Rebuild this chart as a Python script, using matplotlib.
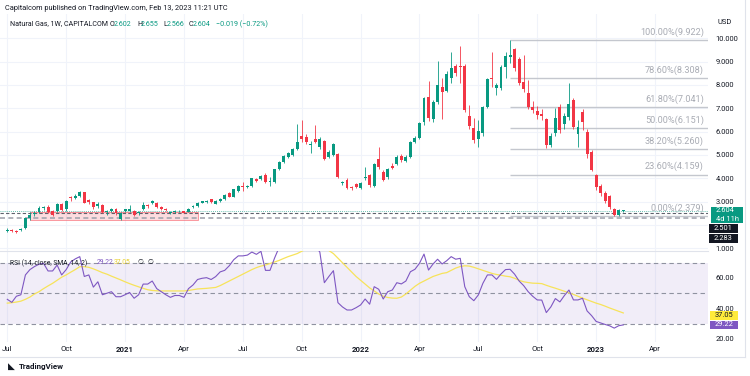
import numpy as np
import matplotlib
matplotlib.use("Agg")
import matplotlib.pyplot as plt
from matplotlib.patches import Rectangle
from matplotlib.lines import Line2D

# Weekly candles, index 0 = week of 6 Jul 2020, last = week of 13 Feb 2023
opens = [1.75, 1.80, 1.76, 1.78, 1.86, 2.29, 2.46, 2.57, 2.74, 2.78,
         2.60, 2.61, 2.89, 2.67, 3.20, 3.16, 3.24, 3.40, 3.06, 2.97,
         2.80, 2.84, 2.55, 2.61, 2.67, 2.26, 2.59, 2.58, 2.60, 2.52,
         2.70, 2.86, 2.96, 2.93, 2.78, 2.70, 2.52, 2.57, 2.58, 2.58,
         2.57, 2.76, 2.81, 2.96, 2.99, 3.10, 2.92, 3.03, 3.10, 3.36,
         3.21, 3.47, 3.67, 3.62, 3.67, 3.97, 3.96, 4.16, 3.85, 3.86,
         4.39, 4.71, 4.90, 5.00, 5.24, 5.81, 5.76, 5.43, 5.68, 5.33,
         5.61, 4.93, 5.00, 5.04, 3.79, 3.93, 3.62, 3.76, 3.60, 4.00,
         4.14, 3.69, 4.83, 4.28, 4.04, 4.54, 4.61, 4.97, 4.74, 4.93,
         5.57, 5.74, 6.40, 7.50, 6.53, 7.28, 7.93, 7.75, 8.30, 8.83,
         8.80, 8.83, 6.67, 6.17, 5.69, 5.93, 7.04, 8.30, 7.86, 7.86,
         8.76, 9.19, 9.54, 9.11, 8.14, 7.64, 7.04, 6.89, 6.76, 6.53,
         5.43, 5.93, 7.04, 6.32, 6.64, 7.36, 5.90, 6.86, 6.00, 5.14,
         4.14, 3.68, 3.38, 3.26, 2.70, 2.43, 2.602]
highs = [1.86, 1.82, 1.80, 1.88, 2.31, 2.55, 2.60, 2.80, 2.82, 2.85,
         2.65, 2.95, 2.93, 3.08, 3.26, 3.32, 3.44, 3.42, 3.10, 3.00,
         2.97, 2.88, 2.65, 2.75, 2.72, 2.56, 2.70, 2.84, 2.65, 2.62,
         3.00, 2.90, 3.06, 2.98, 2.82, 2.74, 2.60, 2.66, 2.65, 2.62,
         2.73, 2.85, 2.98, 3.05, 3.08, 3.13, 3.06, 3.16, 3.32, 3.40,
         3.56, 3.72, 3.83, 3.72, 4.03, 4.02, 4.15, 4.22, 4.05, 4.42,
         4.75, 5.00, 5.12, 5.28, 6.32, 6.50, 5.90, 5.60, 6.28, 5.75,
         5.65, 5.20, 5.50, 5.10, 3.90, 4.00, 3.68, 3.82, 3.86, 4.47,
         4.20, 4.65, 5.33, 4.35, 4.45, 4.65, 4.98, 5.05, 4.98, 5.62,
         5.80, 6.42, 7.50, 8.18, 7.35, 9.03, 8.29, 8.60, 9.43, 8.90,
         9.67, 8.90, 7.15, 6.60, 6.50, 7.10, 8.30, 9.43, 8.10, 8.85,
         9.40, 9.922, 9.60, 9.20, 9.28, 8.21, 7.30, 7.10, 6.95, 6.60,
         5.95, 7.00, 7.20, 6.80, 8.10, 7.45, 6.50, 6.95, 6.10, 5.20,
         4.20, 3.75, 3.45, 3.30, 2.75, 2.70, 2.655]
lows = [1.72, 1.72, 1.65, 1.74, 1.84, 2.20, 2.40, 2.50, 2.66, 2.52,
        2.40, 2.55, 2.60, 2.60, 3.05, 3.10, 3.18, 2.94, 2.88, 2.70,
        2.75, 2.50, 2.45, 2.55, 2.45, 2.20, 2.55, 2.55, 2.40, 2.45,
        2.65, 2.75, 2.92, 2.72, 2.65, 2.60, 2.48, 2.53, 2.55, 2.50,
        2.54, 2.72, 2.78, 2.93, 2.95, 2.94, 2.90, 3.00, 3.07, 3.18,
        3.18, 3.42, 3.45, 3.58, 3.64, 3.85, 3.92, 3.80, 3.67, 3.82,
        4.35, 4.65, 4.85, 4.95, 5.20, 5.55, 5.45, 5.07, 5.50, 5.25,
        4.80, 4.85, 4.95, 4.00, 3.70, 3.55, 3.52, 3.60, 3.55, 3.95,
        3.65, 3.65, 4.42, 3.90, 3.98, 4.40, 4.55, 4.72, 4.68, 4.88,
        5.50, 5.70, 6.30, 6.45, 6.40, 7.20, 6.53, 7.70, 8.10, 8.40,
        8.10, 6.85, 6.10, 5.50, 5.33, 5.80, 7.00, 7.90, 7.57, 7.80,
        8.30, 8.95, 8.60, 8.00, 7.70, 6.95, 6.80, 6.55, 6.50, 5.30,
        5.33, 5.80, 5.95, 6.10, 6.50, 6.10, 5.33, 6.07, 4.85, 4.30,
        3.50, 3.25, 2.95, 2.70, 2.379, 2.40, 2.566]
closes = [1.80, 1.76, 1.72, 1.83, 2.29, 2.43, 2.53, 2.74, 2.78, 2.57,
          2.45, 2.89, 2.65, 3.03, 3.17, 3.26, 3.40, 2.96, 2.98, 2.76,
          2.92, 2.57, 2.60, 2.67, 2.50, 2.53, 2.67, 2.67, 2.43, 2.56,
          2.84, 2.82, 3.02, 2.76, 2.70, 2.63, 2.56, 2.62, 2.62, 2.53,
          2.70, 2.81, 2.96, 3.02, 3.04, 2.97, 3.03, 3.13, 3.29, 3.22,
          3.53, 3.68, 3.64, 3.68, 4.00, 3.88, 4.11, 3.84, 3.87, 4.39,
          4.71, 4.96, 5.07, 5.24, 5.57, 5.70, 5.56, 5.47, 5.56, 5.68,
          4.84, 5.14, 5.47, 4.04, 3.86, 3.60, 3.57, 3.64, 3.80, 4.07,
          3.71, 4.60, 4.47, 3.93, 4.39, 4.44, 4.93, 4.79, 4.93, 5.57,
          5.74, 6.36, 7.43, 6.57, 7.28, 8.00, 7.71, 8.45, 8.71, 8.53,
          8.77, 6.93, 6.24, 5.64, 6.03, 7.04, 8.24, 8.27, 8.00, 8.76,
          9.24, 9.28, 8.71, 8.07, 7.81, 7.04, 6.93, 6.71, 6.68, 5.43,
          5.81, 6.57, 6.07, 6.67, 7.19, 6.21, 6.21, 6.43, 5.04, 4.36,
          3.64, 3.36, 3.04, 2.79, 2.45, 2.623, 2.604]

rsi = [46.0, 44.0, 48.0, 49.0, 62.0, 65.5, 67.5, 69.0, 69.6, 64.6,
       64.6, 68.5, 62.0, 65.5, 70.5, 72.5, 74.0, 61.0, 62.0, 54.0,
       57.5, 49.0, 50.0, 51.0, 47.7, 47.7, 49.0, 50.5, 46.7, 49.0,
       56.0, 56.0, 58.0, 53.0, 51.0, 49.0, 47.3, 48.5, 48.5, 47.3,
       53.0, 55.4, 59.0, 59.8, 60.2, 59.0, 60.9, 64.0, 65.0, 68.0,
       72.0, 74.5, 74.5, 75.0, 77.0, 75.5, 77.5, 65.0, 65.0, 73.0,
       80.0, 82.0, 84.0, 86.0, 87.0, 84.0, 82.0, 80.5, 81.0, 77.0,
       56.9, 61.0, 64.8, 43.8, 41.0, 39.0, 39.0, 40.5, 42.3, 46.2,
       42.8, 54.3, 52.6, 46.2, 51.0, 52.1, 56.9, 56.1, 58.0, 64.1,
       65.7, 69.6, 75.7, 65.2, 69.2, 72.3, 69.2, 71.3, 74.0, 72.3,
       72.9, 54.3, 47.7, 45.1, 48.9, 56.5, 62.0, 62.0, 59.1, 62.6,
       65.5, 65.7, 62.5, 58.0, 55.0, 51.0, 48.0, 45.6, 45.5, 37.3,
       41.0, 46.5, 44.3, 48.5, 52.1, 45.6, 45.6, 46.7, 38.4, 35.3,
       31.5, 30.5, 29.5, 28.6, 27.1, 28.7, 29.22]
rsi_ma = [43.5, 43.8, 44.2, 44.8, 46.0, 47.5, 49.5, 51.0, 53.0, 54.8,
          56.5, 58.5, 60.5, 62.0, 63.8, 65.5, 67.4, 67.4, 67.0, 66.0,
          64.8, 63.5, 62.5, 61.2, 60.0, 58.8, 57.5, 56.3, 55.2, 54.2,
          53.2, 52.3, 51.8, 51.6, 51.5, 51.5, 51.5, 51.5, 51.5, 51.5,
          51.8, 52.3, 52.8, 53.0, 53.2, 53.5, 53.8, 55.0, 56.5, 58.0,
          59.5, 61.0, 62.5, 64.0, 65.5, 66.8, 67.8, 68.5, 69.5, 70.5,
          71.5, 72.8, 74.0, 75.0, 76.0, 77.5, 79.0, 80.5, 81.5, 81.5,
          80.0, 78.0, 76.0, 73.0, 70.0, 67.0, 64.0, 61.0, 58.5, 56.0,
          53.5, 51.5, 49.5, 48.0, 47.2, 46.8, 46.7, 47.5, 49.5, 52.0,
          54.5, 56.5, 58.0, 59.5, 61.0, 62.0, 63.0, 63.5, 65.0, 66.5,
          67.5, 68.0, 67.8, 67.0, 66.0, 65.0, 64.0, 63.0, 62.3, 61.8,
          61.2, 60.8, 59.8, 58.5, 57.5, 57.0, 56.6, 56.5, 56.3, 55.2,
          54.2, 53.3, 52.3, 51.3, 50.2, 49.2, 48.0, 46.8, 45.7, 44.6,
          43.5, 42.6, 41.5, 40.3, 39.2, 38.1, 37.05]

tick_weeks = [0, 13, 26, 39, 52, 65, 78, 91, 104, 117, 130, 143]
tick_labels = ['Jul', 'Oct', '2021', 'Apr', 'Jul', 'Oct', '2022', 'Apr', 'Jul', 'Oct', '2023', 'Apr']
price_ticks = [1, 3, 4, 5, 6, 7, 8, 9, 10]
rsi_ticks = [20, 40, 60]

fib_levels = [9.922, 8.308, 7.041, 6.151, 5.260, 4.159, 2.379]
fib_pcts = ['100.00%', '78.60%', '61.80%', '50.00%', '38.20%', '23.60%', '0.00%']
fib_start_week = 111

UP, DOWN = '#089981', '#f23645'
TEXT = '#131722'
GRID = '#f0f3fa'
W, H = 750, 376

plt.rcParams['font.family'] = ['Roboto', 'DejaVu Sans']


def fx(px):
    return px / W


def fy(py):
    return 1 - py / H


def draw_candles(ax):
    """Candles as wick lines plus thin bars for the bodies."""
    o, h, l, c = map(np.array, (opens, highs, lows, closes))
    x = np.arange(len(c))
    cols = np.where(c >= o, UP, DOWN)
    ax.vlines(x, l, h, colors=cols, lw=0.7, alpha=0.85, zorder=3)
    body = np.maximum(np.abs(c - o), 0.03)
    ax.bar(x, body, bottom=np.minimum(o, c), width=0.66, color=cols, lw=0, zorder=4)


def draw_fib(ax, right):
    for lvl, pct in zip(fib_levels, fib_pcts):
        ax.hlines(lvl, fib_start_week, right, colors='#c4c7ce', lw=1.0, zorder=2)
        ax.text(right - 0.9, lvl + 0.14, f'{pct}({lvl:.3f})', ha='right', va='bottom',
                fontsize=6.6, color='#a9acb4', zorder=5)


def label_box(x0, x1, y0, y1, color, lines, text_color='white'):
    """Price tag on the right scale, positioned in pixels."""
    fig.add_artist(Rectangle((fx(x0), fy(y1)), fx(x1 - x0), (y1 - y0) / H,
                             facecolor=color, edgecolor='none', zorder=10))
    step = (y1 - y0) / len(lines)
    for i, s in enumerate(lines):
        fig.text(fx(x0 + 5), fy(y0 + step * (i + 0.5)), s, color=text_color,
                 fontsize=5.4, va='center', ha='left', zorder=11)


fig = plt.figure(figsize=(7.5, 3.76), dpi=100)
ax = fig.add_axes([0, fy(251), fx(708), (251 - 14) / H])
rax = fig.add_axes([0, fy(342), fx(708), (342 - 251) / H], sharex=ax)

xmin, xmax = -1.61, 154.7
ax.set_xlim(xmin, xmax)
ax.set_ylim(0.887, 11.04)
rax.set_ylim(18.0, 77.7)

for a in (ax, rax):
    for t in tick_weeks:
        a.axvline(t, color=GRID, lw=0.8, zorder=0)
    for s in a.spines.values():
        s.set_visible(False)
for p in range(1, 11):
    ax.axhline(p, color=GRID, lw=0.8, zorder=0)

# support zone and price lines
ax.add_patch(Rectangle((5, 2.21), 37, 0.36, facecolor='#f7525f', alpha=0.2,
                       edgecolor='none', zorder=1))
ax.add_patch(Rectangle((5, 2.21), 37, 0.36, facecolor='none', edgecolor='#f7525f',
                       lw=0.7, alpha=0.6, zorder=1))
ax.axhline(2.604, color=UP, lw=0.6, ls=(0, (1, 1.5)), alpha=0.8, zorder=2)
ax.axhline(2.501, color='#5d606b', lw=0.8, ls=(0, (3, 2)), zorder=2)
ax.axhline(2.283, color='#a3a6af', lw=1.2, ls=(0, (3, 2)), zorder=2)

draw_fib(ax, xmax)
draw_candles(ax)

ax.yaxis.tick_right()
ax.set_yticks(price_ticks)
ax.set_yticklabels([f'{p:.3f}' for p in price_ticks])
ax.tick_params(axis='y', length=0, pad=5.5, labelsize=5.4, labelcolor=TEXT)
ax.tick_params(axis='x', bottom=False, labelbottom=False)

# RSI pane
xi = np.arange(len(rsi))
rax.axhspan(30, 70, color='#7e57c2', alpha=0.1, lw=0, zorder=0)
for lvl in (70, 50, 30):
    rax.axhline(lvl, color='#8f92a0', lw=0.8, ls=(0, (4, 3)), zorder=1)
rax.plot(xi, rsi_ma, color='#f7e35a', lw=0.9, zorder=3)
rax.plot(xi, rsi, color='#7e57c2', lw=0.8, zorder=4)
rax.spines['top'].set_visible(True)
rax.spines['top'].set_color('#e0e3eb')
rax.yaxis.tick_right()
rax.set_yticks(rsi_ticks)
rax.set_yticklabels([f'{v:.2f}' for v in rsi_ticks])
rax.tick_params(axis='y', length=0, pad=5.5, labelsize=5.4, labelcolor=TEXT)
rax.set_xticks(tick_weeks)
rax.set_xticklabels(tick_labels)
rax.tick_params(axis='x', length=0, pad=3, labelsize=5.6, labelcolor=TEXT)
for lab in rax.get_xticklabels():
    if lab.get_text().isdigit():
        lab.set_fontweight('bold')

# frame lines
fig.add_artist(Line2D([0, fx(745)], [fy(357), fy(357)], color='#e0e3eb', lw=0.8))
fig.add_artist(Line2D([fx(745), fx(745)], [fy(357), 1], color='#e0e3eb', lw=0.8))

# header
fig.text(fx(5), fy(8), 'Capitalcom published on TradingView.com, Feb 13, 2023 11:21 UTC',
         fontsize=5.3, color=TEXT, va='center')
fig.text(fx(10), fy(24), 'Natural Gas, 1W, CAPITALCOM', fontsize=5.1, color=TEXT, va='center')
for xp, s, col in [(110, 'O', TEXT), (114, '2.602', UP), (137, 'H', TEXT), (141, '2.655', UP),
                   (163, 'L', TEXT), (166.5, '2.566', UP), (189, 'C', TEXT), (192.5, '2.604', UP),
                   (216, '\u22120.019 (\u22120.72%)', UP)]:
    fig.text(fx(xp), fy(24), s, fontsize=5.1, color=col, va='center')
fig.text(fx(718), fy(22), 'USD', fontsize=5.4, color=TEXT, va='center')

# RSI legend
for xp, s, col in [(10, 'RSI (14, close, SMA, 14, 2)', TEXT), (97, '29.22', '#7e57c2'),
                   (114, '37.05', '#e8cf2a'), (138, '\u2205', TEXT), (147, '\u2205', TEXT)]:
    fig.text(fx(xp), fy(263), s, fontsize=4.9, color=col, va='center')

# right scale tags
label_box(711, 743, 207, 223, UP, ['2.604', '4d 11h'])
label_box(709, 738, 224.5, 233.5, TEXT, ['2.501'])
label_box(709, 738, 233.5, 242.5, TEXT, ['2.283'])
label_box(710, 738, 311, 319.5, '#ffeb3b', ['37.05'], text_color=TEXT)
label_box(710, 738, 320.5, 329, '#7e57c2', ['29.22'])

# footer logo
fig.text(fx(8), fy(366), '\u25e3', fontsize=6.5, color=TEXT, va='center')
fig.text(fx(19), fy(366), 'TradingView', fontsize=5.8, color=TEXT, va='center', fontweight='bold')

fig.savefig('out.png', dpi=100)
